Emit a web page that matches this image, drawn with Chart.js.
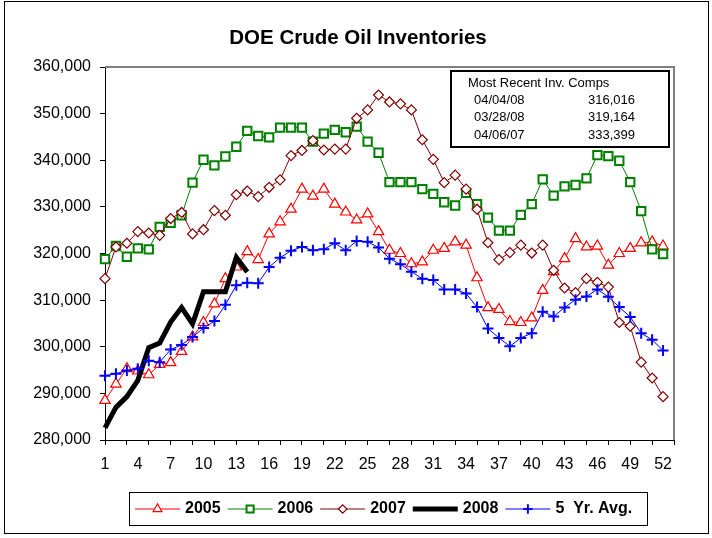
<!DOCTYPE html>
<html>
<head>
<meta charset="utf-8">
<title>DOE Crude Oil Inventories</title>
<script src="https://cdn.jsdelivr.net/npm/chart.js@4.4.1/dist/chart.umd.min.js"></script>
<style>
  html, body { margin: 0; padding: 0; background: #fff; }
  canvas { display: block; }
</style>
</head>
<body>
<canvas id="myChart" width="712" height="538"></canvas>
<script>
// week numbers (53 slots, the last one has no data and no label)
const weeks = ['1','2','3','4','5','6','7','8','9','10','11','12','13','14','15','16','17','18',
  '19','20','21','22','23','24','25','26','27','28','29','30','31','32','33','34','35','36',
  '37','38','39','40','41','42','43','44','45','46','47','48','49','50','51','52','53'];

// inventories, thousand barrels
const y2005 = [288500, 292000, 295300, 294800, 294000, 296200, 296600, 299000, 302100, 305200,
  309200, 314600, 317100, 320400, 318700, 324200, 326800, 329500, 333800, 332300,
  333800, 330600, 328900, 327200, 328500, 324700, 320700, 320000, 317800, 318200,
  320700, 321100, 322500, 321800, 314800, 308400, 308000, 305400, 305200, 306200,
  312100, 316100, 318900, 323200, 321400, 321600, 317500, 320000, 321100, 322300,
  322500, 321600];
const y2006 = [318800, 321600, 319300, 321100, 320900, 325700, 326600, 328200, 335200, 340100,
  338900, 340800, 342900, 346300, 345200, 344900, 347000, 347000, 347000, 344000,
  345700, 346500, 346000, 347200, 344000, 341600, 335300, 335300, 335300, 333800,
  332800, 331000, 330300, 333000, 330600, 327700, 324900, 324900, 328300, 330600,
  335900, 332400, 334400, 334700, 336100, 341100, 340900, 339900, 335300, 329100,
  320900, 319900];
const y2007 = [314600, 321400, 322200, 324700, 324400, 323900, 327500, 328800, 324200, 325100,
  329200, 328200, 332600, 333399, 332200, 334200, 335800, 341000, 342100, 344200,
  342200, 342400, 342400, 349000, 350800, 354000, 352500, 352100, 350800, 344400,
  340200, 335200, 336800, 333800, 329500, 322300, 318700, 320200, 321800, 320100,
  321800, 316400, 312600, 311600, 314600, 313800, 312800, 305200, 304400, 296700,
  293300, 289300];
const y2008 = [282600, 287000, 289300, 292800, 299800, 300800, 305300, 308400, 304900, 311800,
  311800, 311800, 319164, 316016];
const avg5 = [293800, 294200, 294900, 295300, 297000, 296700, 299400, 300400, 302100, 304000,
  305500, 309000, 313200, 313700, 313600, 317100, 319100, 320600, 321400, 320700,
  320900, 322200, 320700, 322700, 322500, 321300, 318900, 317700, 316100, 314600,
  314300, 312300, 312300, 311400, 308500, 303900, 301900, 300100, 301900, 302900,
  307500, 306500, 308400, 310100, 310800, 312300, 310700, 308500, 306400, 302900,
  301500, 299200];

// inset table
const recentDates = ['04/04/08', '03/28/08', '04/06/07'];
const recentValues = [316016, 319164, 333399];

const FONT = 'Arial, "Liberation Sans", sans-serif';
Chart.defaults.font.family = FONT;
Chart.defaults.color = '#000';

function series(label, data, color, style, radius, width, order) {
  return {
    label: label,
    data: data,
    borderColor: color,
    backgroundColor: '#fff',
    borderWidth: width,
    pointStyle: style,
    pointRadius: style ? radius : 0,
    pointHoverRadius: style ? radius : 0,
    pointBorderColor: color,
    pointBackgroundColor: '#fff',
    pointBorderWidth: style === 'cross' || style === 'rect' ? 2 : 1.2,
    tension: 0,
    order: order
  };
}

const data = {
  labels: weeks,
  datasets: [
    series('2005', y2005, '#FF0000', 'triangle', 6, 1, 5),
    series('2006', y2006, '#008000', 'rect', 5.9, 1, 4),
    series('2007', y2007, '#800000', 'rectRot', 5, 1, 3),
    series('2008', y2008, '#000000', false, 0, 5, 2),
    series('5  Yr. Avg.', avg5, '#0000FF', 'cross', 5.5, 1, 1)
  ]
};

// title, inset table, legend box and outer frame
const decorations = {
  id: 'decorations',
  beforeDatasetsDraw(chart) {
    const ctx = chart.ctx, a = chart.chartArea;
    ctx.save();
    ctx.strokeStyle = '#808080';
    ctx.lineWidth = 2;
    ctx.beginPath();
    ctx.moveTo(a.left, a.top);
    ctx.lineTo(a.right, a.top);
    ctx.lineTo(a.right, a.bottom);
    ctx.stroke();
    ctx.restore();
  },
  afterDraw(chart) {
    const ctx = chart.ctx;
    ctx.save();

    // outer frame
    ctx.strokeStyle = '#000';
    ctx.lineWidth = 1;
    ctx.strokeRect(4.5, 1.5, 704, 532);

    // title
    ctx.fillStyle = '#000';
    ctx.font = 'bold 20.5px ' + FONT;
    ctx.textAlign = 'center';
    ctx.textBaseline = 'middle';
    ctx.fillText('DOE Crude Oil Inventories', 358, 38);

    // inset table
    ctx.fillStyle = '#fff';
    ctx.fillRect(451, 71, 218, 76);
    ctx.lineWidth = 2;
    ctx.strokeRect(451, 71, 218, 76);
    ctx.fillStyle = '#000';
    ctx.font = '13px ' + FONT;
    ctx.textAlign = 'left';
    ctx.fillText('Most Recent Inv. Comps', 468, 83);
    recentDates.forEach(function(d, i) {
      const yy = 100 + i * 17.5;
      ctx.textAlign = 'left';
      ctx.fillText(d, 474, yy);
      ctx.textAlign = 'right';
      ctx.fillText(recentValues[i].toLocaleString('en-US'), 635, yy);
    });

    // legend
    ctx.lineWidth = 1;
    ctx.strokeRect(129.5, 492.5, 518, 33);
    ctx.font = 'bold 16px ' + FONT;
    ctx.textAlign = 'left';
    let x = 135;
    const ly = 509;
    chart.data.datasets.forEach(function(ds) {
      ctx.strokeStyle = ds.borderColor;
      ctx.lineWidth = ds.borderWidth;
      ctx.lineCap = 'butt';
      ctx.beginPath();
      ctx.moveTo(x, ly);
      ctx.lineTo(x + 45, ly);
      ctx.stroke();
      if (ds.pointStyle && Chart.helpers && Chart.helpers.drawPoint) {
        ctx.fillStyle = '#fff';
        ctx.lineWidth = ds.pointBorderWidth;
        Chart.helpers.drawPoint(ctx, {
          pointStyle: ds.pointStyle,
          rotation: 0,
          radius: ds.pointRadius * 0.85,
          borderWidth: ds.pointBorderWidth
        }, x + 22.5, ly);
      }
      ctx.fillStyle = '#000';
      ctx.fillText(ds.label, x + 50, ly);
      x += 50 + ctx.measureText(ds.label).width + 7;
    });

    ctx.restore();
  }
};

const config = {
  type: 'line',
  data: data,
  options: {
    responsive: false,
    animation: false,
    devicePixelRatio: 1,
    layout: { padding: { left: 0, top: 67, right: 38, bottom: 0 } },
    plugins: {
      legend: { display: false },
      title: { display: false },
      tooltip: { enabled: false }
    },
    scales: {
      x: {
        type: 'category',
        offset: false,
        afterFit: function(scale) { scale.height = 98; },
        grid: {
          drawOnChartArea: false,
          drawTicks: true,
          tickLength: 5,
          tickColor: function(c) { return c.index % 2 === 0 ? '#000' : 'rgba(0,0,0,0)'; }
        },
        border: { color: '#000', width: 1 },
        ticks: {
          autoSkip: false,
          maxRotation: 0,
          padding: 10,
          font: { size: 16 },
          color: '#000',
          callback: function(v, i) { return i % 3 === 0 ? weeks[i] : ''; }
        }
      },
      y: {
        min: 280000,
        max: 360000,
        afterFit: function(scale) { scale.width = 105; },
        grid: {
          drawOnChartArea: false,
          drawTicks: true,
          tickLength: 5,
          tickColor: '#000'
        },
        border: { color: '#000', width: 1 },
        ticks: {
          stepSize: 10000,
          padding: 9,
          font: { size: 16 },
          color: '#000',
          callback: function(v) { return v.toLocaleString('en-US'); }
        }
      }
    }
  },
  plugins: [decorations]
};

const myChart = new Chart(document.getElementById('myChart'), config);
</script>
</body>
</html>
